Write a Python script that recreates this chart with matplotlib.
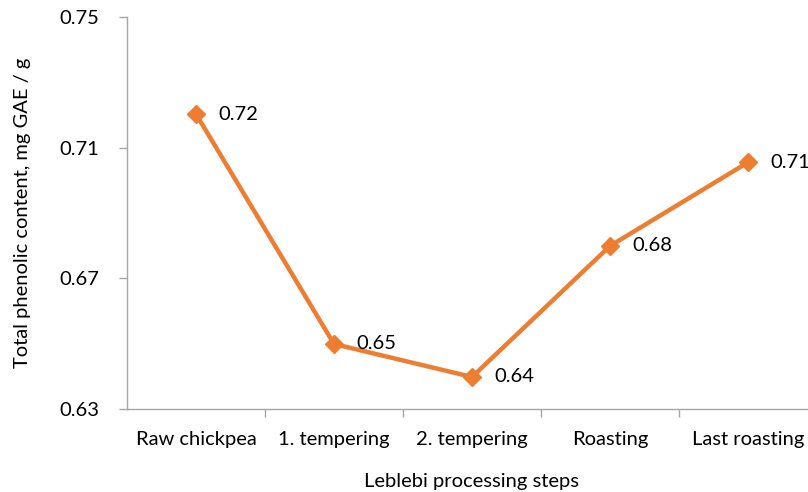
import matplotlib
matplotlib.use("Agg")
import matplotlib.pyplot as plt

# processing steps and phenolic content
steps = ["Raw chickpea", "1. tempering", "2. tempering", "Roasting", "Last roasting"]
phenolic = [0.7203, 0.6499, 0.6398, 0.6799, 0.7055]
yticks = [0.63, 0.67, 0.71, 0.75]

plt.rcParams["font.family"] = ["Lato", "DejaVu Sans"]
fs = 14.5

fig = plt.figure(figsize=(8.08, 4.92), dpi=100)
ax = fig.add_axes([127 / 808, 1 - 409 / 492, 690 / 808, 392 / 492])

x = list(range(len(steps)))
ax.plot(x, phenolic, color="#ED7D31", linewidth=3.2, marker="D", markersize=9,
        clip_on=False, zorder=3)

# value labels; the last one runs off the right edge as in the original
for xi, v in zip(x, phenolic):
    ax.annotate(f"{v:.2f}", (xi, v), xytext=(16, 0), textcoords="offset points",
                va="center", ha="left", fontsize=fs, color="#000000")

ax.set_xlim(-0.5, 4.5)
ax.set_ylim(0.63, 0.75)
ax.set_yticks(yticks)
ax.set_yticklabels([f"{t:.2f}" for t in yticks])

ax.set_xticks([i + 0.5 for i in x[:-1]])
ax.set_xticklabels([])
ax.set_xticks(x, minor=True)
ax.set_xticklabels(steps, minor=True)
ax.tick_params(axis="x", which="minor", length=0, pad=16, labelsize=fs)
ax.tick_params(axis="x", which="major", length=6, color="#A6A6A6", width=1)
ax.tick_params(axis="y", length=6, color="#A6A6A6", width=1, labelsize=fs, pad=14)

for s in ["top", "right"]:
    ax.spines[s].set_visible(False)
for s in ["left", "bottom"]:
    ax.spines[s].set_color("#A6A6A6")
    ax.spines[s].set_linewidth(1)

ax.set_xlabel("Leblebi processing steps", fontsize=fs, labelpad=18)
ax.set_ylabel("Total phenolic content, mg GAE / g", fontsize=fs, labelpad=20)

fig.savefig("out.png", dpi=100)
